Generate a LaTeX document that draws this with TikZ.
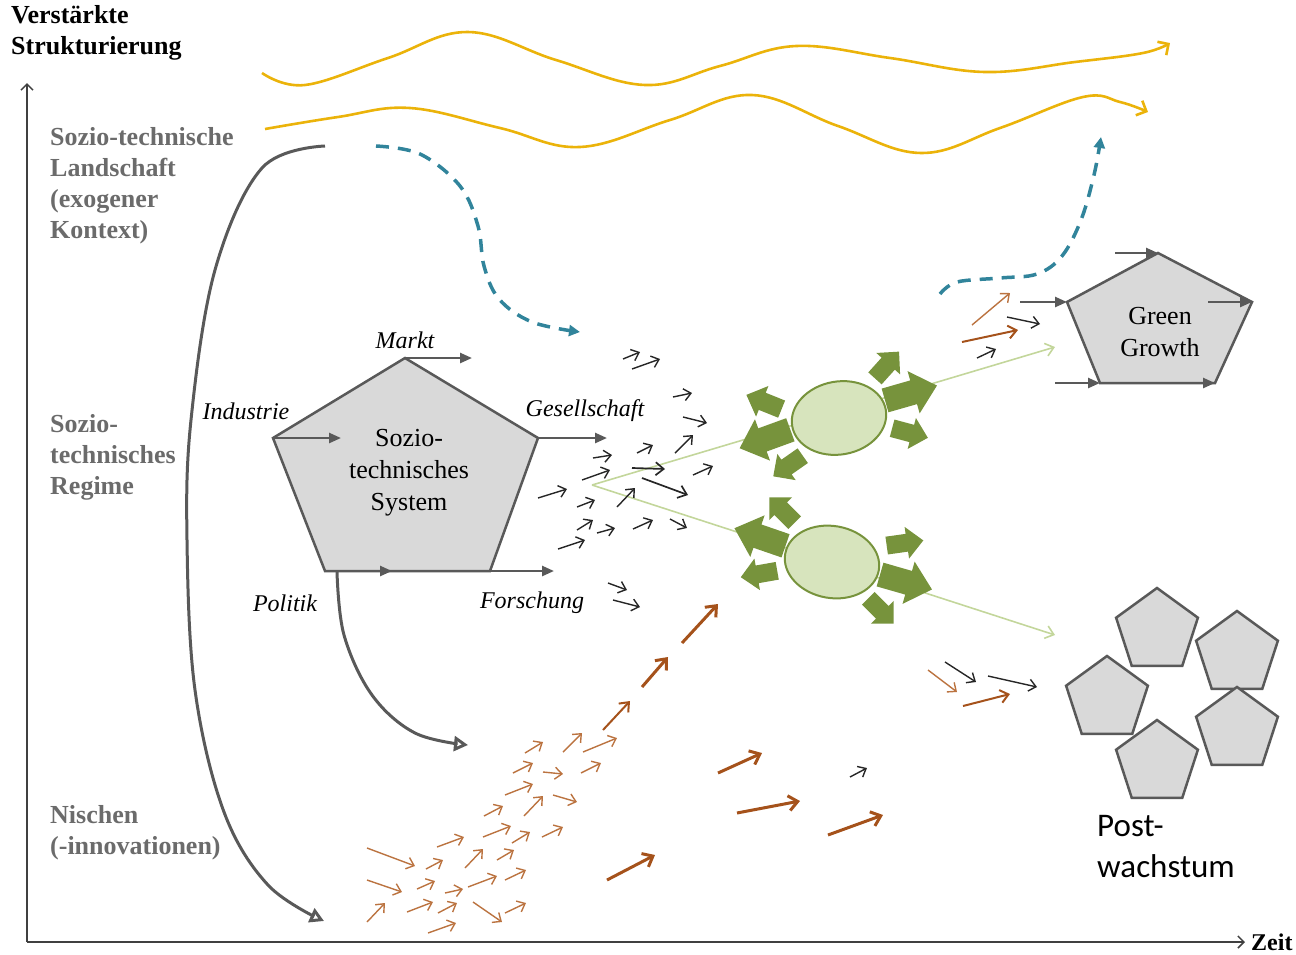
\documentclass[tikz,border=0pt]{standalone}
\usepackage{fontspec}
\setmainfont{Liberation Serif}
\newfontfamily\calib{Carlito}
\usetikzlibrary{arrows.meta,shapes.geometric}
\definecolor{axisc}{HTML}{404040}
\definecolor{grayc}{HTML}{595959}
\definecolor{labc}{HTML}{6B6B6B}
\definecolor{pfill}{HTML}{D9D9D9}
\definecolor{yel}{HTML}{EBB30A}
\definecolor{blue}{HTML}{31849B}
\definecolor{gdark}{HTML}{77933C}
\definecolor{glight}{HTML}{D7E4BD}
\definecolor{gline}{HTML}{C3D69B}
\definecolor{brk}{HTML}{A5521B}
\definecolor{brt}{HTML}{BB7340}
\definecolor{blkc}{HTML}{262626}
\newcommand\greenarrow[5]{%
 \fill[gdark, shift={(#1,#2)}, rotate=#3]
   ({-#4/2},{-0.28*#5}) -- ({0.05*#4},{-0.28*#5}) -- ({0.05*#4},{-#5/2}) -- ({#4/2},0) --
   ({0.05*#4},{#5/2}) -- ({0.05*#4},{0.28*#5}) -- ({-#4/2},{0.28*#5}) -- cycle;}
\begin{document}
\begin{tikzpicture}[x=1pt,y=-1pt,
  blk/.style={draw=blkc, line width=1.4pt, -{Straight Barb[length=7pt,width=12pt]}},
  blkw/.style={draw=blkc, line width=1.7pt, -{Straight Barb[length=8pt,width=13pt]}},
  bthin/.style={draw=brt, line width=1.4pt, -{Straight Barb[length=7pt,width=12pt]}},
  bmed/.style={draw=brk, line width=2pt, -{Straight Barb[length=8pt,width=13pt]}},
  bthick/.style={draw=brk, line width=3pt, -{Straight Barb[length=9pt,width=15pt]}},
  yarr/.style={draw=yel, line width=2.6pt, -{Straight Barb[length=8pt,width=16pt]}},
  bdash/.style={draw=blue, line width=3.5pt, dash pattern=on 13pt off 9pt, -{Triangle[length=11pt,width=11pt]}},
  gcurve/.style={draw=grayc, line width=3pt, -{Triangle[open,length=14pt,width=15pt]}},
  pent/.style={draw=grayc, fill=pfill, line width=2.5pt, line join=miter},
  parr/.style={draw=grayc, line width=2.5pt, -{Triangle[length=12pt,width=10pt]}},
  axis/.style={draw=axisc, line width=1.5pt, -{Straight Barb[length=6pt,width=12pt]}},
  lab/.style={text=labc, font=\bfseries\fontsize{26}{31}\selectfont, align=left, anchor=west, inner sep=0},
  itl/.style={font=\itshape\fontsize{24}{28}\selectfont, inner sep=0},
  ptext/.style={font=\fontsize{26}{32}\selectfont, align=center, inner sep=0},
  glinest/.style={draw=gline, line width=1.6pt, -{Straight Barb[length=8pt,width=13pt]}},
  spent/.style={regular polygon, regular polygon sides=5, minimum size=86pt, inner sep=0, draw=grayc, fill=pfill, line width=2.5pt}
]
\useasboundingbox (0,0) rectangle (1296,954);

% axes
\coordinate (O) at (27,942);
\coordinate (Ytop) at (27,83);
\coordinate (Xend) at (1245,942);
\draw[axis] (O) -- (Ytop);
\draw[axis] (O) -- (Xend);
\node[anchor=west, font=\bfseries\fontsize{26}{31}\selectfont, align=left, inner sep=0] (ttl) at (11,33) {Verstärkte\\Strukturierung};
\node[anchor=west, font=\bfseries\fontsize{24}{28}\selectfont, inner sep=0] (zeit) at (1251,942) {Zeit};

% level labels
\node[lab] (land) at (50,186) {Sozio-technische\\Landschaft\\(exogener\\Kontext)};
\node[lab] (reg) at (50,457) {Sozio-\\technisches\\Regime};
\node[lab] (nis) at (50,833) {Nischen\\(-innovationen)};

% yellow waves
\draw[yarr] plot[smooth, tension=0.65] coordinates {(262,73) (305,85) (388,58) (468,32) (556,60) (645,85) (720,66) (796,46) (890,58) (985,72) (1075,62) (1143,53) (1170,43)};
\draw[yarr] plot[smooth, tension=0.65] coordinates {(265,129) (338,117) (410,108) (500,128) (580,147) (670,120) (752,95) (838,126) (921,153) (1000,128) (1083,97) (1120,102) (1148,112)};

% gray curves
\draw[gcurve] plot[smooth, tension=0.6] coordinates {(325,146) (262,168) (215,270) (191,420) (187,540) (195,690) (224,812) (268,885) (324,921)};
\draw[gcurve] plot[smooth, tension=0.6] coordinates {(337,572) (344,635) (372,695) (415,733) (468,745)};

% blue dashed
\draw[bdash] plot[smooth, tension=0.6] coordinates {(376,146) (420,154) (460,186) (478,226) (484,266) (499,299) (532,322) (580,332)};
\draw[bdash] plot[smooth, tension=0.6] coordinates {(940,294) (957,282) (1000,278) (1037,274) (1062,256) (1081,220) (1094,175) (1101,137)};

% socio-technical system pentagon
\coordinate (pT) at (405,358);
\coordinate (pR) at (538,438);
\coordinate (pBR) at (490,571);
\coordinate (pBL) at (325,571);
\coordinate (pL) at (273,438);
\draw[pent] (pT) -- (pR) -- (pBR) -- (pBL) -- (pL) -- cycle;
\node[ptext] (sys) at (409,473) {Sozio-\\technisches\\System};
\coordinate (aM) at (472,358);
\coordinate (aI) at (341,438);
\coordinate (aG) at (607,438);
\coordinate (aP) at (392,571);
\coordinate (aF) at (554,571);
\draw[parr] (pT) -- (aM);
\draw[parr] (pL) -- (aI);
\draw[parr] (pR) -- (aG);
\draw[parr] (pBL) -- (aP);
\draw[parr] (pBR) -- (aF);
\node[itl] (markt) at (405,340) {Markt};
\node[itl] (ind) at (246,411) {Industrie};
\node[itl] (ges) at (585,411) {Gesellschaft};
\node[itl] (pol) at (285,603) {Politik};
\node[itl] (for) at (532,603) {Forschung};

% green thin lines
\coordinate (gv) at (592,485);
\coordinate (gu) at (1055,347);
\coordinate (gd) at (1055,635);
\draw[glinest] (gv) -- (gu);
\draw[glinest] (gv) -- (gd);

% ellipses
\node[ellipse, draw=gdark, fill=glight, line width=2pt, minimum width=95pt, minimum height=73pt, rotate=10] (e1) at (839,418) {};
\node[ellipse, draw=gdark, fill=glight, line width=2pt, minimum width=95pt, minimum height=72pt, rotate=-10] (e2) at (832,562) {};

% green block arrows, upper
\greenarrow{764}{402}{158}{38}{33}
\greenarrow{765}{439}{200}{54}{44}
\greenarrow{788}{466}{215}{36}{32}
\greenarrow{887}{365}{48}{36}{32}
\greenarrow{911}{393}{16}{54}{44}
\greenarrow{910}{433}{-15}{37}{32}
% green block arrows, lower
\greenarrow{782}{510}{135}{36}{32}
\greenarrow{760}{537}{161}{54}{44}
\greenarrow{759}{574}{190}{37}{32}
\greenarrow{905}{543}{8}{37}{32}
\greenarrow{906}{582}{-16}{54}{44}
\greenarrow{881}{611}{-45}{36}{32}

% green growth pentagon
\coordinate (gT) at (1158,253);
\coordinate (gR) at (1252,302);
\coordinate (gBR) at (1215,383);
\coordinate (gBL) at (1100,383);
\coordinate (gL) at (1067,302);
\draw[pent] (gT) -- (gR) -- (gBR) -- (gBL) -- (gL) -- cycle;
\node[ptext] (gg) at (1160,332) {Green\\Growth};
\coordinate (g1) at (1115,253);
\coordinate (g2) at (1208,302);
\coordinate (g3) at (1020,302);
\coordinate (g4) at (1055,383);
\draw[parr] (g1) -- (gT);
\draw[parr] (g2) -- (gR);
\draw[parr] (g3) -- (gL);
\draw[parr] (g4) -- (gBL);
\draw[parr] (gBL) -- (gBR);

% post-growth pentagons
\node[spent] (s1) at (1157,631) {};
\node[spent] (s2) at (1237,654) {};
\node[spent] (s3) at (1107,699) {};
\node[spent] (s4) at (1237,730) {};
\node[spent] (s5) at (1157,763) {};
\node[font=\calib\fontsize{33}{41}\selectfont, align=left, anchor=west, inner sep=0] (pw) at (1097,847) {Post-\\wachstum};

% black small arrows (regime)
\draw[blk] (623,359) -- (640,352);
\draw[blk] (632,369) -- (660,359);
\draw[blk] (673,397) -- (692,393);
\draw[blk] (683,417) -- (707,423);
\draw[blk] (593,458) -- (612,455);
\draw[blk] (582,480) -- (610,470);
\draw[blk] (637,453) -- (653,445);
\draw[blk] (675,453) -- (693,435);
\draw[blkw] (632,468) -- (665,469);
\draw[blkw] (642,478) -- (688,495);
\draw[blk] (693,475) -- (713,466);
\draw[blk] (538,498) -- (567,489);
\draw[blk] (577,507) -- (595,500);
\draw[blk] (617,507) -- (635,488);
\draw[blk] (577,530) -- (593,520);
\draw[blk] (597,533) -- (615,528);
\draw[blk] (633,529) -- (653,520);
\draw[blk] (670,519) -- (687,528);
\draw[blk] (558,549) -- (585,540);
\draw[blk] (608,583) -- (627,590);
\draw[blk] (613,600) -- (640,607);
\draw[blk] (850,777) -- (867,768);
% near green growth
\draw[blk] (1007,317) -- (1040,324);
\draw[blk] (977,358) -- (996,349);
\draw[bthin] (972,325) -- (1010,293);
\draw[bmed] (962,342) -- (1018,330);
% near post-growth
\draw[blk] (945,662) -- (976,682);
\draw[blk] (988,676) -- (1037,687);
\draw[bthin] (928,670) -- (957,692);
\draw[bmed] (963,706) -- (1010,694);

% brown niche arrows
\draw[bthick] (682,643) -- (718,604);
\draw[bthick] (642,687) -- (668,657);
\draw[bmed] (603,730) -- (630,701);
\draw[bthin] (525,753) -- (543,742);
\draw[bthin] (563,752) -- (582,733);
\draw[bthin] (583,752) -- (617,738);
\draw[bthin] (513,773) -- (533,763);
\draw[bthin] (543,772) -- (563,774);
\draw[bthin] (581,773) -- (601,763);
\draw[bthin] (505,795) -- (533,784);
\draw[bthin] (524,816) -- (543,796);
\draw[bthin] (553,795) -- (577,802);
\draw[bthin] (484,816) -- (503,806);
\draw[bthin] (437,847) -- (464,837);
\draw[bthin] (483,837) -- (511,826);
\draw[bthin] (512,843) -- (530,832);
\draw[bthin] (542,837) -- (563,827);
\draw[bthin] (465,868) -- (483,849);
\draw[bthin] (497,860) -- (514,850);
\draw[bthin] (426,869) -- (443,860);
\draw[bthin] (367,848) -- (415,866);
\draw[bthin] (367,880) -- (402,892);
\draw[bthin] (417,889) -- (435,881);
\draw[bthin] (445,893) -- (463,889);
\draw[bthin] (468,887) -- (497,876);
\draw[bthin] (505,880) -- (526,870);
\draw[bthin] (367,922) -- (385,903);
\draw[bthin] (407,912) -- (433,902);
\draw[bthin] (438,913) -- (457,903);
\draw[bthin] (473,902) -- (502,922);
\draw[bthin] (505,913) -- (526,903);
\draw[bthin] (428,933) -- (456,923);
\draw[bthick] (718,773) -- (762,753);
\draw[bthick] (737,813) -- (800,801);
\draw[bthick] (828,835) -- (883,815);
\draw[bthick] (607,880) -- (655,855);
\end{tikzpicture}
\end{document}
